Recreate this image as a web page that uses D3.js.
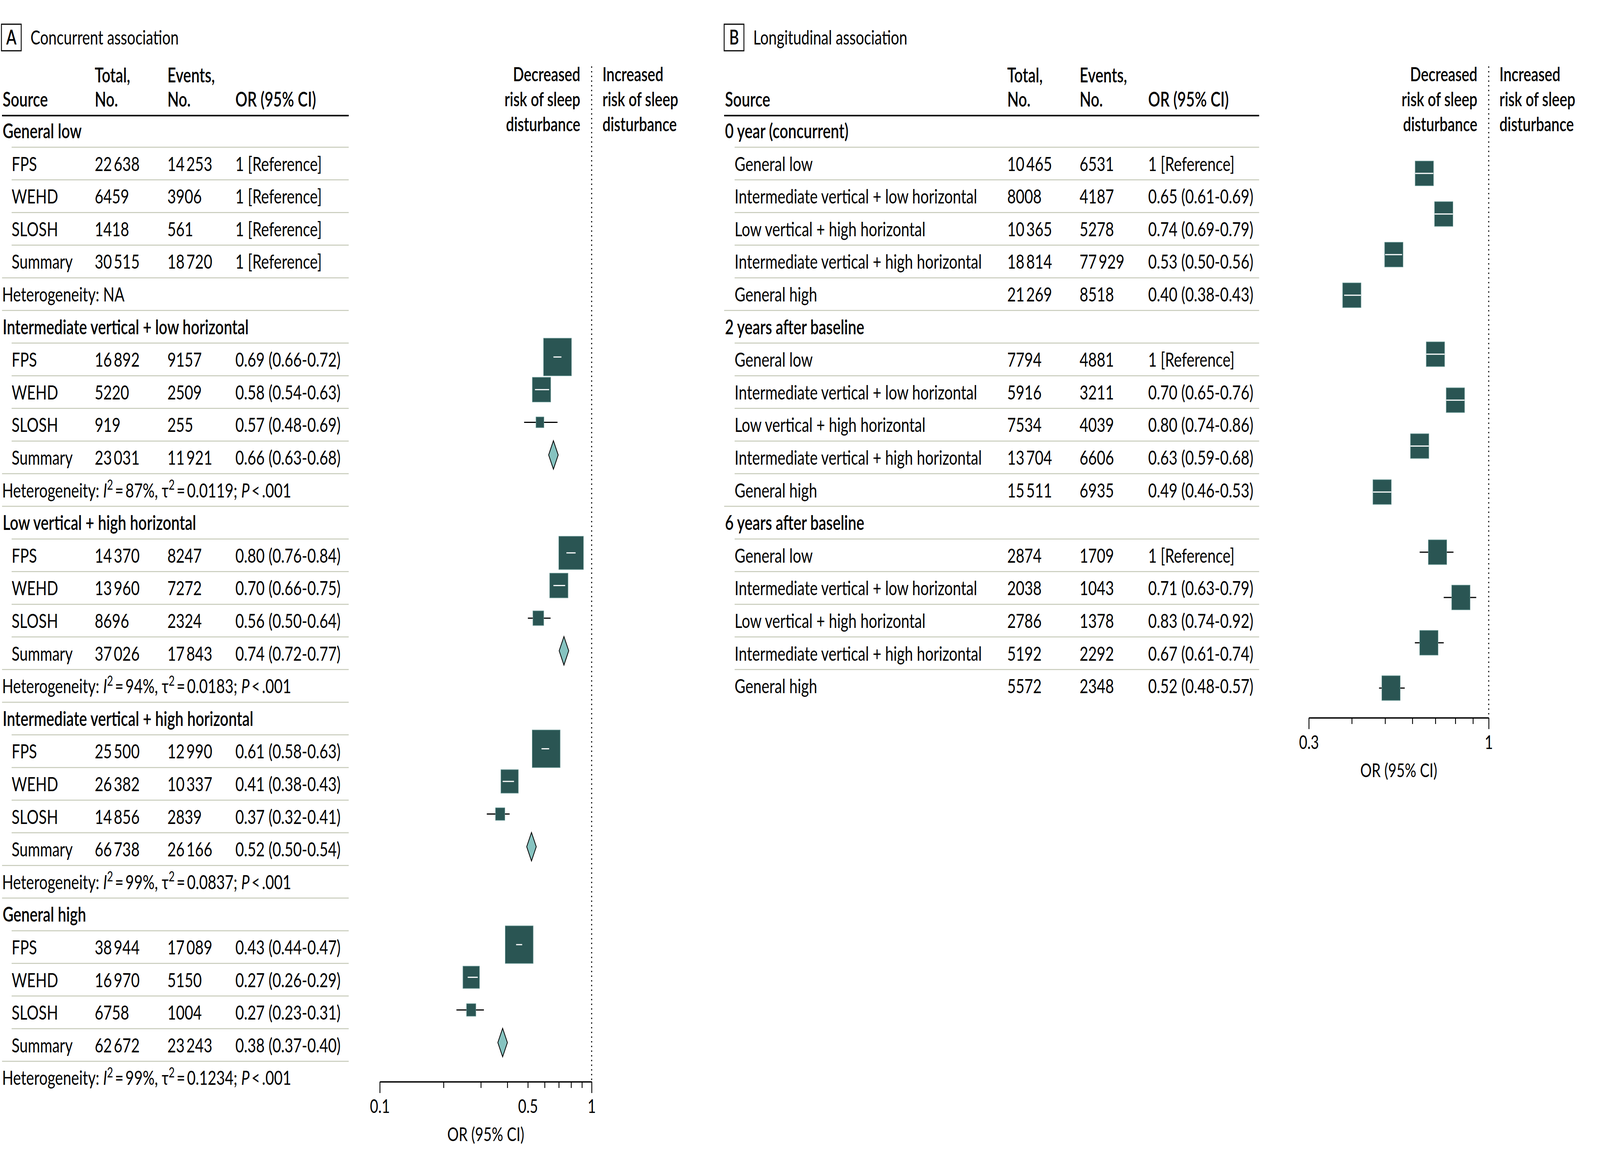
<!DOCTYPE html>
<html>
<head>
<meta charset="utf-8">
<script src="https://cdn.jsdelivr.net/npm/d3@7"></script>
<style>
  html, body { margin: 0; padding: 0; background: #fff; overflow: hidden; }
  #chart svg { display: block; width: 100vw; height: 100vh; }
  text { font-family: Lato, "Open Sans", sans-serif; fill: #000; }
</style>
</head>
<body>
<div id="chart"></div>
<script>
const W = 5506, H = 2950;

// ---- Panel A: concurrent association ----
const groupsA = ["General low", "Intermediate vertical + low horizontal", "Low vertical + high horizontal",
  "Intermediate vertical + high horizontal", "General high"];
const sourcesA = ["FPS", "WEHD", "SLOSH", "Summary"];
const totalA = [
  [22638, 6459, 1418, 30515],
  [16892, 5220, 919, 23031],
  [14370, 13960, 8696, 37026],
  [25500, 26382, 14856, 66738],
  [38944, 16970, 6758, 62672]
];
const eventsA = [
  [14253, 3906, 561, 18720],
  [9157, 2509, 255, 11921],
  [8247, 7272, 2324, 17843],
  [12990, 10337, 2839, 26166],
  [17089, 5150, 1004, 23243]
];
const orTextA = [
  ["1 [Reference]", "1 [Reference]", "1 [Reference]", "1 [Reference]"],
  ["0.69 (0.66-0.72)", "0.58 (0.54-0.63)", "0.57 (0.48-0.69)", "0.66 (0.63-0.68)"],
  ["0.80 (0.76-0.84)", "0.70 (0.66-0.75)", "0.56 (0.50-0.64)", "0.74 (0.72-0.77)"],
  ["0.61 (0.58-0.63)", "0.41 (0.38-0.43)", "0.37 (0.32-0.41)", "0.52 (0.50-0.54)"],
  ["0.43 (0.44-0.47)", "0.27 (0.26-0.29)", "0.27 (0.23-0.31)", "0.38 (0.37-0.40)"]
];
// plotted estimates (as drawn in the figure)
const orA = [
  [null, null, null, null],
  [0.69, 0.58, 0.57, 0.66],
  [0.80, 0.70, 0.56, 0.74],
  [0.61, 0.41, 0.37, 0.52],
  [0.455, 0.27, 0.27, 0.38]
];
const loA = [
  [null, null, null, null],
  [0.66, 0.54, 0.48, 0.63],
  [0.76, 0.66, 0.50, 0.72],
  [0.58, 0.38, 0.32, 0.50],
  [0.44, 0.26, 0.23, 0.37]
];
const hiA = [
  [null, null, null, null],
  [0.72, 0.63, 0.69, 0.68],
  [0.84, 0.75, 0.64, 0.77],
  [0.63, 0.43, 0.41, 0.54],
  [0.47, 0.29, 0.31, 0.40]
];
// relative study weight (marker area)
const weightA = [
  [null, null, null, null],
  [100, 43, 8, null],
  [78, 43, 15, null],
  [100, 39, 11, null],
  [100, 35, 11, null]
];
const hetI2A = [null, "87%", "94%", "99%", "99%"];
const hetTauA = [null, "0.0119", "0.0183", "0.0837", "0.1234"];
const tickValuesA = [0.1, 0.2, 0.3, 0.4, 0.5, 0.6, 0.7, 0.8, 0.9, 1];
const tickLabelsA = [0.1, 0.5, 1];

// ---- Panel B: longitudinal association ----
const periodsB = ["0 year (concurrent)", "2 years after baseline", "6 years after baseline"];
const categoriesB = ["General low", "Intermediate vertical + low horizontal", "Low vertical + high horizontal",
  "Intermediate vertical + high horizontal", "General high"];
const totalB = [
  [10465, 8008, 10365, 18814, 21269],
  [7794, 5916, 7534, 13704, 15511],
  [2874, 2038, 2786, 5192, 5572]
];
const eventsB = [
  [6531, 4187, 5278, 77929, 8518],
  [4881, 3211, 4039, 6606, 6935],
  [1709, 1043, 1378, 2292, 2348]
];
const orTextB = [
  ["1 [Reference]", "0.65 (0.61-0.69)", "0.74 (0.69-0.79)", "0.53 (0.50-0.56)", "0.40 (0.38-0.43)"],
  ["1 [Reference]", "0.70 (0.65-0.76)", "0.80 (0.74-0.86)", "0.63 (0.59-0.68)", "0.49 (0.46-0.53)"],
  ["1 [Reference]", "0.71 (0.63-0.79)", "0.83 (0.74-0.92)", "0.67 (0.61-0.74)", "0.52 (0.48-0.57)"]
];
const orB = [
  [null, 0.65, 0.74, 0.53, 0.40],
  [null, 0.70, 0.80, 0.63, 0.49],
  [null, 0.71, 0.83, 0.67, 0.52]
];
const loB = [
  [null, 0.61, 0.69, 0.50, 0.38],
  [null, 0.65, 0.74, 0.59, 0.46],
  [null, 0.63, 0.74, 0.61, 0.48]
];
const hiB = [
  [null, 0.69, 0.79, 0.56, 0.43],
  [null, 0.76, 0.86, 0.68, 0.53],
  [null, 0.79, 0.92, 0.74, 0.57]
];
const tickValuesB = [0.3, 0.4, 0.5, 0.6, 0.7, 0.8, 0.9, 1];
const tickLabelsB = [0.3, 1];

// ---- styles ----
const squareFill = "#2a5553", squareEdge = "#5e8e8b", diamondFill = "#86c3c0", ruleColor = "#c6cab9";
const rowTop = 354, rowPitch = 83.6;

// the window may be narrower than the figure, so the viewBox is stretched to fill it
const svg = d3.select("#chart").append("svg")
  .attr("viewBox", `0 0 ${W} ${H}`).attr("preserveAspectRatio", "none");
svg.append("rect").attr("width", W).attr("height", H).attr("fill", "#fff");

// size fonts so text widths match the figure
function fitSize(str, weight, target) {
  const t = svg.append("text").attr("font-size", 100).attr("font-weight", weight).text(str);
  const w = t.node().getComputedTextLength();
  t.remove();
  return 100 * target / w;
}
const fsReg = fitSize("Intermediate vertical + high horizontal", 400, 851);
const fsBold = fitSize("Intermediate vertical + high horizontal", 600, 863);
const fsTitle = fitSize("Concurrent association", 400, 510);
const fsRisk = fitSize("disturbance", 600, 256);
const fsAxis = fitSize("OR (95% CI)", 400, 265);

const fmt = n => n >= 10000 ? d3.format(",")(n).replace(",", "\u2009") : String(n);
const rowY = d3.scaleLinear().domain([0, 1]).range([rowTop, rowTop + rowPitch]);

// build row lists
const rowsA = [];
groupsA.forEach((g, gi) => {
  rowsA.push({ type: "group", label: g });
  sourcesA.forEach((s, si) => rowsA.push({
    type: "item", label: s, total: totalA[gi][si], events: eventsA[gi][si], orText: orTextA[gi][si],
    or: orA[gi][si], lo: loA[gi][si], hi: hiA[gi][si], w: weightA[gi][si], summary: si === 3
  }));
  rowsA.push({ type: "het", i2: hetI2A[gi], tau: hetTauA[gi] });
});
rowsA.forEach((r, i) => r.i = i);

const rowsB = [];
periodsB.forEach((p, pi) => {
  rowsB.push({ type: "group", label: p });
  categoriesB.forEach((c, ci) => rowsB.push({
    type: "item", label: c, total: totalB[pi][ci], events: eventsB[pi][ci], orText: orTextB[pi][ci],
    or: orB[pi][ci], lo: loB[pi][ci], hi: hiB[pi][ci], period: pi, cat: c
  }));
});
rowsB.forEach((r, i) => r.i = i);

function drawPanel(letter, title, boxX, rows, col, plot) {
  const g = svg.append("g");
  // panel label
  g.append("rect").attr("x", boxX).attr("y", 62).attr("width", 68).attr("height", 68)
    .attr("fill", "none").attr("stroke", "#000").attr("stroke-width", 3);
  g.append("text").attr("x", boxX + 34).attr("y", 114).attr("text-anchor", "middle")
    .attr("font-size", fsBold).attr("font-weight", 600).text(letter);
  g.append("text").attr("x", boxX + 100).attr("y", 114).attr("font-size", fsTitle).text(title);

  // column headers
  const hd = g.append("g").attr("font-size", fsBold).attr("font-weight", 600);
  hd.append("text").attr("x", col.source).attr("y", 273).text("Source");
  [[col.total, "Total,"], [col.events, "Events,"]].forEach(([x, t]) => {
    hd.append("text").attr("x", x).attr("y", 211).text(t);
    hd.append("text").attr("x", x).attr("y", 273).text("No.");
  });
  hd.append("text").attr("x", col.or).attr("y", 273).text("OR (95% CI)");
  g.append("line").attr("x1", col.lineL).attr("x2", col.lineR).attr("y1", 296).attr("y2", 296)
    .attr("stroke", "#000").attr("stroke-width", 4);

  // separator rules
  g.append("g").selectAll("line").data(rows.slice(0, -1)).join("line")
    .attr("x1", d => rows[d.i + 1].type === "item" ? col.indent : col.lineL)
    .attr("x2", col.lineR)
    .attr("y1", d => rowY(d.i) + 23).attr("y2", d => rowY(d.i) + 23)
    .attr("stroke", ruleColor).attr("stroke-width", 2.5);

  // group header rows
  g.append("g").selectAll("text").data(rows.filter(d => d.type === "group")).join("text")
    .attr("x", col.source).attr("y", d => rowY(d.i))
    .attr("font-size", fsBold).attr("font-weight", 600).text(d => d.label);

  // item rows
  const items = g.append("g").attr("font-size", fsReg).selectAll("g")
    .data(rows.filter(d => d.type === "item")).join("g")
    .attr("transform", d => `translate(0,${rowY(d.i)})`);
  items.append("text").attr("x", col.indent).text(d => d.label);
  items.append("text").attr("x", col.total).text(d => fmt(d.total));
  items.append("text").attr("x", col.events).text(d => fmt(d.events));
  items.append("text").attr("x", col.or).text(d => d.orText);

  // heterogeneity rows
  const het = g.append("g").attr("font-size", fsReg).selectAll("text")
    .data(rows.filter(d => d.type === "het")).join("text")
    .attr("x", col.lineL).attr("y", d => rowY(d.i));
  het.each(function (d) {
    const t = d3.select(this);
    t.append("tspan").text("Heterogeneity: ");
    if (d.i2 == null) { t.append("tspan").text("NA"); return; }
    t.append("tspan").attr("font-style", "italic").text("I");
    t.append("tspan").attr("font-size", fsReg * 0.7).attr("dy", -fsReg * 0.38).text("2");
    t.append("tspan").attr("dy", fsReg * 0.38).text("\u2009=\u2009" + d.i2 + ", \u03c4");
    t.append("tspan").attr("font-size", fsReg * 0.7).attr("dy", -fsReg * 0.38).text("2");
    t.append("tspan").attr("dy", fsReg * 0.38).text("\u2009=\u2009" + d.tau + "; ");
    t.append("tspan").attr("font-style", "italic").text("P");
    t.append("tspan").text("\u2009<\u2009.001");
  });

  // forest plot
  const x = d3.scaleLog().domain(plot.domain).range(plot.range);
  const fp = g.append("g");
  const x1 = x(1);
  fp.append("line").attr("x1", x1).attr("x2", x1).attr("y1", 170).attr("y2", plot.axisY)
    .attr("stroke", "#000").attr("stroke-width", 3.5).attr("stroke-dasharray", "3.5,8.5");

  const rk = fp.append("g").attr("font-size", fsRisk).attr("font-weight", 600);
  ["Decreased", "risk of sleep", "disturbance"].forEach((t, k) => {
    rk.append("text").attr("x", x1 - 39).attr("y", 208 + k * 64).attr("text-anchor", "end").text(t);
    rk.append("text").attr("x", x1 + 37).attr("y", 208 + k * 64).text(t === "Decreased" ? "Increased" : t);
  });

  const axis = d3.axisBottom(x).tickValues(plot.ticks).tickSize(16).tickSizeOuter(0)
    .tickFormat(d => plot.labels.includes(d) ? d3.format("~g")(d) : "");
  const ax = fp.append("g").attr("transform", `translate(0,${plot.axisY})`).call(axis);
  ax.select(".domain").attr("stroke-width", 3.5);
  ax.selectAll(".tick line").attr("stroke-width", 3)
    .attr("y2", d => (d === plot.domain[0] || d === 1) ? 29 : 16);
  ax.selectAll(".tick text").attr("font-family", "Lato, 'Open Sans', sans-serif").attr("font-size", fsAxis)
    .attr("fill", "#000").attr("dy", null).attr("y", 80);
  fp.append("text").attr("x", (plot.range[0] + plot.range[1]) / 2).attr("y", plot.axisY + 152)
    .attr("text-anchor", "middle").attr("font-size", fsAxis).text("OR (95% CI)");

  const marks = rows.filter(d => d.type === "item" && d.or != null);
  const pts = fp.append("g").selectAll("g").data(marks.filter(d => !d.summary)).join("g")
    .attr("transform", d => `translate(0,${plot.y(d)})`);
  // whisker shown in black when wider than the marker, otherwise as a white bar inside it
  const wide = d => (x(d.hi) - x(d.lo)) > plot.side(d) + 20;
  pts.filter(wide).append("line").attr("x1", d => x(d.lo)).attr("x2", d => x(d.hi))
    .attr("stroke", "#000").attr("stroke-width", 3);
  pts.append("rect")
    .attr("x", d => x(d.or) - plot.side(d) / 2).attr("y", d => -plot.side(d) / 2)
    .attr("width", d => plot.side(d)).attr("height", d => plot.side(d))
    .attr("fill", squareFill).attr("stroke", squareEdge).attr("stroke-width", 1.5);
  pts.filter(d => !wide(d)).append("line")
    .attr("x1", d => Math.max(x(d.lo), x(d.or) - plot.side(d) / 2))
    .attr("x2", d => Math.min(x(d.hi), x(d.or) + plot.side(d) / 2))
    .attr("stroke", "#fff").attr("stroke-width", 3);

  fp.append("g").selectAll("path").data(marks.filter(d => d.summary)).join("path")
    .attr("d", d => {
      const cx = x(d.or), cy = plot.y(d);
      return `M${cx - 16.5},${cy}L${cx},${cy - 36.5}L${cx + 16.5},${cy}L${cx},${cy + 36.5}Z`;
    })
    .attr("fill", diamondFill).attr("stroke", "#000").attr("stroke-width", 2.5);
}

// Panel A
const sideA = d3.scaleSqrt().domain([0, 100]).range([0, 96]);
drawPanel("A", "Concurrent association", 5, rowsA,
  { source: 9, indent: 40, total: 326, events: 576, or: 810, lineL: 7, lineR: 1200 },
  {
    domain: [0.1, 1], range: [1307, 2036], axisY: 2770, ticks: tickValuesA, labels: tickLabelsA,
    y: d => rowY(d.i) - 25, side: d => sideA(d.w)
  });

// Panel B: markers for each period spread evenly over that period's block
const spanB = [[444, 756], [907, 1260], [1414, 1762]];
const yB = periodsB.map((p, pi) => d3.scalePoint().domain(categoriesB.slice(1)).range(spanB[pi]));
drawPanel("B", "Longitudinal association", 2492, rowsB,
  { source: 2495, indent: 2528, total: 3466, events: 3715, or: 3951, lineL: 2492, lineR: 4333 },
  {
    domain: [0.3, 1], range: [4504, 5123], axisY: 1838, ticks: tickValuesB, labels: tickLabelsB,
    y: d => yB[d.period](d.cat), side: () => 63
  });
</script>
</body>
</html>
